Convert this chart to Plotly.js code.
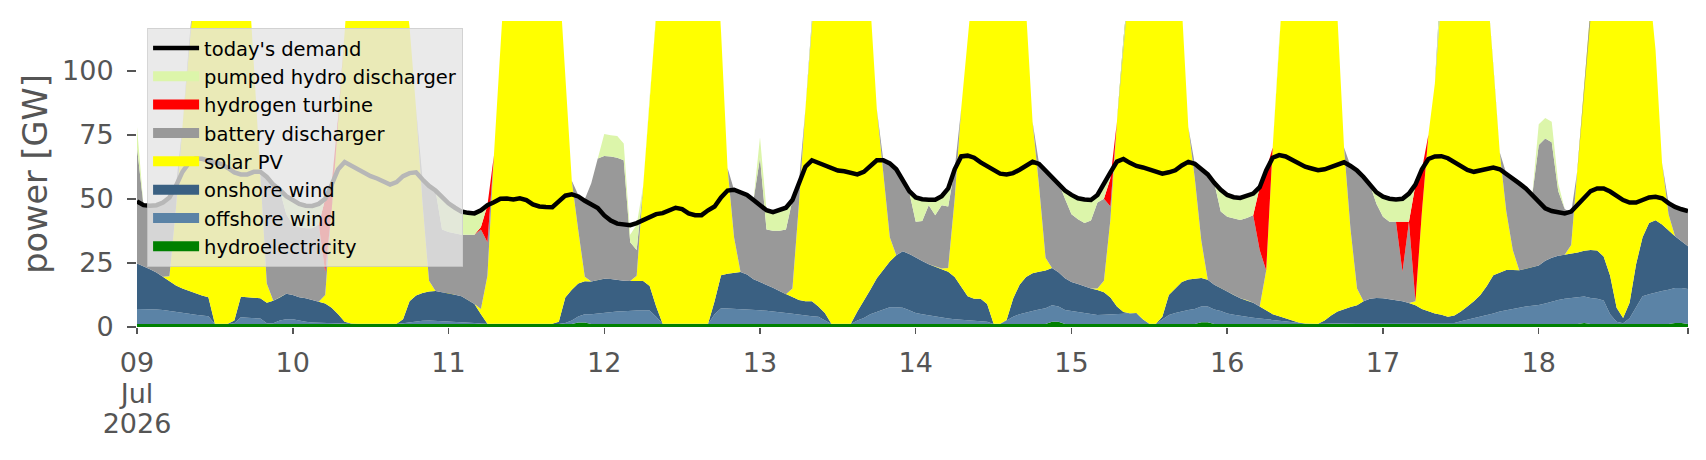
<!DOCTYPE html>
<html>
<head>
<meta charset="utf-8">
<script src="https://cdn.plot.ly/plotly-3.0.1.min.js"></script>
<style>
html,body{margin:0;padding:0;background:#ffffff;}
#chart{width:1706px;height:460px;}
</style>
</head>
<body>
<div id="chart"></div>
<script>
// hourly series, 2026-07-09 00:00 .. 2026-07-18 23:00 (GW), one line per day
const hydroelectricity = [
1.2,1.2,1.2,1.2,1.2,1.2,1.2,1.2,1.2,1.2,1.2,1.2,1.2,1.2,1.2,1.2,1.2,1.2,1.2,1.2,1.2,1.2,1.2,1.2,
1.2,1.2,1.2,1.2,1.2,1.2,1.2,1.2,1.2,1.2,1.2,1.2,1.2,1.2,1.2,1.2,1.2,1.2,1.2,1.2,1.2,1.2,1.2,1.2,
1.2,1.2,1.2,1.2,1.2,1.2,1.2,1.2,1.2,1.2,1.2,1.2,1.2,1.2,1.2,1.2,1.2,1.2,1.2,1.2,1.8,1.8,1.2,1.2,
1.2,1.2,1.2,1.2,1.2,1.2,1.2,1.2,1.2,1.2,1.2,1.2,1.2,1.2,1.2,1.2,1.2,1.2,1.2,1.2,1.2,1.2,1.2,1.2,
1.2,1.2,1.2,1.2,1.2,1.2,1.2,1.2,1.2,1.2,1.2,1.2,1.2,1.2,1.2,1.2,1.2,1.2,1.2,1.2,1.2,1.2,1.2,1.2,
1.2,1.2,1.2,1.2,1.2,1.2,1.2,1.2,1.2,1.2,1.2,1.2,1.2,1.2,1.2,1.2,1.2,1.2,1.2,1.2,1.2,2.0,2.0,1.2,
1.2,1.2,1.2,1.2,1.2,1.2,1.2,1.2,1.2,1.2,1.2,1.2,1.2,1.2,1.2,1.2,1.2,1.2,1.2,1.2,1.9,1.9,1.2,1.2,
1.2,1.2,1.2,1.2,1.2,1.2,1.2,1.2,1.2,1.2,1.2,1.2,1.2,1.2,1.2,1.2,1.2,1.2,1.2,1.2,1.2,1.2,1.2,1.2,
1.2,1.2,1.2,1.2,1.2,1.2,1.2,1.2,1.2,1.2,1.2,1.2,1.2,1.2,1.2,1.2,1.2,1.2,1.2,1.2,1.2,1.2,1.2,1.2,
1.2,1.2,1.2,1.2,1.2,1.2,1.2,1.6,1.2,1.2,1.2,1.2,1.2,1.2,1.2,1.2,1.2,1.2,1.2,1.2,1.2,1.6,1.6,1.2
];
const offshoreWind = [
5.8,5.8,5.7,5.6,5.4,5.1,4.8,4.4,4.0,3.6,3.4,3.0,0,0,0,0.3,2.6,2.4,2.3,2.1,0.3,0.3,1.3,1.8,
1.8,1.3,0.8,0.6,0.5,0.4,0.3,0.1,0,0,0,0,0,0,0,0,0,0.3,0.6,1.0,1.2,1.3,1.2,1.0,
0.9,0.7,0.6,0.5,0.4,0.2,0,0,0,0,0,0,0,0,0,0,0,0,0.4,1.3,2.3,3.2,3.8,4.1,
4.3,4.6,4.8,4.9,5.1,5.2,5.2,5.2,2.8,0,0,0,0,0,0,0,0,3.8,6.1,6.0,5.9,5.8,5.7,5.5,
5.3,5.1,4.9,4.6,4.3,4.0,3.6,3.3,3.0,2.8,1.3,0,0,0,0,1.3,2.3,3.8,4.8,5.8,6.5,6.5,6.3,5.3,
4.3,3.8,3.3,2.8,2.4,2.1,1.8,1.6,1.5,1.3,1.1,0.8,0,0,1.3,2.8,3.8,4.5,5.0,5.6,6.1,6.5,6.0,5.4,
5.0,4.7,4.3,3.8,3.5,3.6,3.8,3.9,4.0,4.1,4.0,1.8,0,0,1.8,3.5,4.3,5.0,5.4,5.8,6.1,6.1,5.6,5.0,
4.1,3.6,3.1,2.8,2.4,2.1,1.8,1.5,1.2,0.9,0.6,0.4,0.2,0.1,0,0.1,0.2,0.3,0.3,0.4,0.4,0.4,0.4,0.4,
0.4,0.4,0.4,0.4,0.4,0.4,0.4,0.4,0.4,0.4,0.4,0.4,1.0,1.6,2.1,2.6,3.3,4.1,4.8,5.4,5.8,6.3,6.8,7.1,
7.4,8.0,8.8,9.3,9.8,10.1,10.3,10.3,10.1,9.8,9.1,3.8,0.8,0.3,2.2,6.8,10.8,11.6,12.3,12.8,13.3,13.6,13.6,13.6
];
const onshoreWind = [
17.8,16.8,15.6,14.4,13.0,11.5,10.2,9.4,8.8,8.4,7.7,7.4,0.1,0.1,0.1,1.0,8.0,8.0,7.9,7.9,8.0,8.7,9.0,10.0,
9.5,9.1,9.2,8.7,8.1,7.6,6.0,3.7,0.8,0.2,0.1,0.1,0.1,0.1,0.1,0.1,0.1,1.5,8.2,10.1,10.9,11.3,11.6,11.3,
11.2,10.7,10.2,8.8,7.4,3.6,0.1,0.1,0.1,0.1,0.1,0.1,0.1,0.1,0.1,0.1,0.1,0.8,9.9,12.0,12.9,12.8,12.7,13.0,
13.3,12.9,12.3,11.9,11.6,11.5,11.5,9.6,4.0,0.1,0.1,0.1,0.1,0.1,0.1,0.1,0.1,5.0,12.9,13.6,14.1,14.4,13.6,11.9,
11.0,10.2,9.2,8.2,7.3,6.3,5.7,5.5,5.8,4.0,3.0,0.1,0.1,0.1,0.1,3.5,6.5,9.5,13.0,15.5,17.8,20.3,22.0,22.0,
21.5,20.7,20.0,19.5,19.2,18.2,16.5,13.2,9.3,8.5,8.7,7.0,0.1,0.1,0.2,7.0,11.5,13.8,14.8,14.7,14.7,14.5,13.3,12.4,
11.3,10.9,10.3,10.0,9.7,8.7,6.5,2.9,0.6,0.1,0.3,0,0.1,0.1,1.0,7.8,9.5,11.3,11.9,11.8,11.1,10.4,9.7,9.0,
8.7,7.7,6.9,6.5,5.9,4.7,3.5,2.3,1.8,1.2,0.7,0.2,0,0,0.1,1.2,3.1,4.5,5.5,6.2,6.9,8.4,9.4,9.7,
9.6,9.2,8.9,8.4,7.8,6.9,5.4,4.4,3.7,3.2,2.4,2.9,3.8,5.2,6.7,8.7,11.5,14.9,15.2,15.6,15.2,14.6,14.8,15.2,
15.4,16.6,17.0,17.3,17.2,17.3,17.5,17.8,18.7,18.8,17.2,15.0,5.5,2.0,6.1,16.5,23.0,27.7,28.1,26.0,23.0,20.2,18.2,16.7
];
const solarPV = [
0,0,0,0,0,2,30,63,96,129,153,168,184,184,177,163,143,133,91,48,7.5,0,0,0,
0,0,0,0,0,3.3,38,77,113,149,164,174,179,179,174,164,149,135,107,73,35,4.2,0,0,
0,0,0,0,0,2,18.7,65.7,113.7,149,164,174,179,177,171,161,151,137,86.5,42.5,20.6,1.8,0,0,
0,0,0,0,0,2.1,37.1,74,114,149,164,171,175,175,172,168,165,150,94.8,41.2,13.8,0,0,0,
0,0,0,0,0,3.5,37.5,75,110,142,159.5,169.7,174.7,175.7,171.7,160,145,111.5,66,37.5,9.5,0,0,0,
0,0,0,0,0,1.5,30.5,69,100,134,155,166,177.7,179.7,177.3,166,150.5,105.5,59,33.5,5,0,0,0,
0,0,0,0,0.6,4.5,30.5,72,106.2,139.6,159.5,172,177.7,179.7,176,164.5,150,107.5,59.5,39.2,14.6,0,0,0,
0,0,0,0,0,0,15.5,65,107.8,146.7,165.5,175.2,179.7,179.7,177.7,169.5,155.5,114,63,30.2,6.5,0,0,0,
0,0,0,0,0,1.5,38,69,89.7,135.2,160,171.5,176,175,168,149.5,119,81.8,46.8,22.8,7.8,0,0,0,
0,0,0,0,0,3.4,33,65.7,95,120.2,140.5,160,174.5,178.5,175.5,155.5,125,94.5,66.4,24,6.5,0,0,0
];
const batteryDischarger = [
45.2,23.7,24.8,26.3,28.9,30.7,9,0,0,0,0,0,0,0,0,0,0,0,0,1.3,41.5,45.3,42,31,
27.5,27.4,27.3,28,30.2,9,0,0,0,0,0,0,0,0,0,0,0,0,0,0,9.5,37,39.2,24.5,
23.7,23.9,24,25.5,27,31,13,0,0,0,0,0,0,0,0,0,0,0,0,0,13.9,30.2,38.3,47.4,
47.9,47.8,47.7,47,15.1,10,0,0,0,0,0,0,0,0,0,0,0,0,0,0,18.5,31.3,31,30.9,
48.5,21.5,22.2,23.5,25.2,34.5,8.5,0,0,0,0,0,0,0,0,0,0,0,0,5,28.8,33.5,27.5,24,
14,15.6,23,20.1,24.7,24,11.5,0,0,0,0,0,0,0,0,0,0,0,0,8.6,34,36.3,35,31,
26.5,25.2,24.7,26.5,33.5,32,5,0,0,0,0,0,0,0,0,0,0,0,0,5.6,28.5,41.8,39.7,29.8,
29,29.7,30.5,32,34.1,22,0,0,0,0,0,0,0,0,0,0,0,0,0,24.8,46,48.5,44.5,36.7,
31.8,30.2,30.5,11.5,31.6,0,0,0,0,0,0,0,0,0,0,0,0,0,0,14.8,28,33.9,31.2,28,
47,47.7,45,25.2,17.8,12.5,0,0,0,0,0,0,0,0,0,0,0,0,0,0,4.3,11.8,12.9,13.7
];
const hydrogenTurbine = [
0,0,0,0,0,0,0,0,0,0,0,0,0,0,0,0,0,0,0,0,0,0,0,0,
0,0,0,0,0,28.5,10.5,0,0,0,0,0,0,0,0,0,0,0,0,0,0,0,0,0,
0,0,0,0,0,1,14.5,0,0,0,0,0,0,0,0,0,0,0,0,0,0,0,0,0,
0,0,0,0,0,0,0,0,0,0,0,0,0,0,0,0,0,0,0,0,0,0,0,0,
0,0,0,0,0,0,0,0,0,0,0,0,0,0,0,0,0,0,0,0,0,0,0,0,
0,0,0,0,0,0,0,0,0,0,0,0,0,0,0,0,0,0,0,0,0,0,0,0,
0,0,0,0,0,0,11,0,0,0,0,0,0,0,0,0,0,0,0,0,0,0,0,0,
0,0,0,0,0,24.5,39,0,0,0,0,0,0,0,0,0,0,0,0,0,0,0,0,0,
0,0,0,19.5,0,45.5,16.5,0,0,0,0,0,0,0,0,0,0,0,0,0,0,0,0,0,
0,0,0,0,0,0,0,0,0,0,0,0,0,0,0,0,0,0,0,0,0,0,0,0
];
const pumpedHydroDischarger = [
8,0,0,0,0,0,0,0,0,0,0,0,0,0,0,0,0,0,0,0,0,0,0,7,
9.5,9,8.8,8.7,8,0,0,0,0,0,0,0,0,0,0,0,0,0,0,0,0,0,0,12.5,
11.2,10,9,8.5,8.3,6.5,0,0,0,0,0,0,0,0,0,0,0,0,0,0,0,0,0,0,
8.5,8.3,8.5,6.5,3,10,0,0,0,0,0,0,0,0,0,0,0,0,0,0,0,0,0,0,
8,7.5,7.3,8,8.5,0,0,0,0,0,0,0,0,0,0,0,0,0,0,0,0,0,0,0.5,
9.5,8.5,2.1,6,3.5,7,0,0,0,0,0,0,0,0,0,0,0,0,0,0,0,0,0,3.2,
7.5,8.2,9.2,8,3,5.5,0,0,0,0,0,0,0,0,0,0,0,0,0,0,0,0,0,8.5,
8.5,8.4,8.6,8.5,8.4,0,0,0,0,0,0,0,0,0,0,0,0,0,0,0,0,0,0,4.5,
7.8,9,8.7,9,11,0,0,0,0,0,0,0,0,0,0,0,0,0,0,0,0,0,0,0,
8,8,8,3,0,0,0,0,0,0,0,0,0,0,0,0,0,0,0,0,0,0,0,0
];
const todaysDemand = [
49,47.5,47.3,47.5,48.5,50.5,55,60.5,64,65.7,65.6,65,64.5,63.5,62,60.3,59.5,59.5,60.5,60.5,58.5,55.5,53.5,51,
49.5,48,47.3,47.2,48,50,55.5,61.5,64.3,62.8,61.5,60,58.8,57.9,56.5,55.5,56.5,58.8,60,60.3,57.5,55,53.2,50.5,
48.2,46.5,45,44.5,44.3,45.5,47.5,48.6,50,50.1,49.7,50.2,49.5,47.8,47,46.8,46.7,49,51.2,51.7,50.9,49.2,47.8,46.4,
43.5,41.5,40.3,39.9,39.7,40.5,41.7,43.2,44,44.4,45.5,46.5,46,44.3,43.6,43.6,45.5,47,50.5,53.2,53.5,52.7,51.5,49.5,
47.5,45.5,44.8,45.5,46.5,49.5,56.5,62.5,65,64,62.6,61.6,61,60.7,60.3,59.5,60.5,62.5,65,65,63.8,61.5,57,53,
50.5,49.8,49.6,49.6,51,54,61.5,66.5,66.8,66,64.2,62.8,61.2,59.8,59.5,60,61.3,63,64.4,63.6,61,58.5,55.5,53.2,
51.5,50.2,49.7,49.5,51.5,55.5,60.3,64.5,65.5,64,62.8,62.2,61.4,60.5,59.8,60.3,61.1,63,64.4,63.6,61.5,59.5,56.2,53.5,
51.5,50.6,50.3,51,52,54.5,61,66,67,66.5,65.2,63.5,62.5,61.8,61.1,61.5,62.3,63.5,64.2,62.8,61,58.5,55.5,52.5,
50.8,50,49.7,50,52,55.5,61.5,65.5,66.5,66.6,65.8,64.3,62.5,61.2,60.5,61,61.8,62.2,61.5,59.8,58,56,54,51.5,
48.5,46.3,45.2,44.6,44.3,45,47.5,50.5,53,54,54,52.8,51,49.5,48.5,48.5,49.5,50.5,50.8,50.2,48.3,46.8,45.9,45.2
];

const tickDates = ['2026-07-09','2026-07-10','2026-07-11','2026-07-12','2026-07-13',
                   '2026-07-14','2026-07-15','2026-07-16','2026-07-17','2026-07-18','2026-07-18 23:00'];
const tickLabels = [['09','Jul','2026'],['10'],['11'],['12'],['13'],['14'],['15'],['16'],['17'],['18'],['']];
const yTicks = [0, 25, 50, 75, 100];

// hourly time stamps
const times = [];
for (let i = 0; i < todaysDemand.length; i++) {
  const d = new Date(Date.UTC(2026, 6, 9, i));
  times.push(d.toISOString().slice(0, 16).replace('T', ' '));
}
// tick text: glyphs at 27px, line pitch from a smaller base font (tighter line spacing)
const tickText = tickLabels.map(function (lines) {
  return lines.map(function (t) { return t ? '<span style="font-size:27px">' + t + '</span>' : ''; }).join('<br>');
});

const FONT = 'DejaVu Sans, Liberation Sans, sans-serif';
const series = [
  ['hydroelectricity', hydroelectricity, '#008000', 8],
  ['offshore wind', offshoreWind, '#5b83a6', 7],
  ['onshore wind', onshoreWind, '#3a6082', 6],
  ['solar PV', solarPV, '#ffff00', 5],
  ['battery discharger', batteryDischarger, '#999999', 4],
  ['hydrogen turbine', hydrogenTurbine, '#ff0000', 3],
  ['pumped hydro discharger', pumpedHydroDischarger, '#dcf5aa', 2]
];
const traces = [];
series.forEach(function (s) {
  traces.push({
    type: 'scatter', mode: 'lines', x: times, y: s[1], name: s[0],
    stackgroup: 'gen', line: {width: 0, color: s[2]}, fillcolor: s[2],
    showlegend: false, legendgroup: s[0], hoverinfo: 'skip'
  });
});
traces.push({type: 'scatter', mode: 'lines', x: times, y: todaysDemand, name: "today's demand",
  line: {color: '#000000', width: 4.5}, legendrank: 1, hoverinfo: 'skip'});
// legend swatches (patch-like) for the stacked areas
series.forEach(function (s) {
  traces.push({
    type: 'scatter', mode: 'lines', x: [times[0]], y: [null], name: s[0],
    line: {width: 15, color: s[2]}, legendgroup: s[0], legendrank: s[3],
    showlegend: true, hoverinfo: 'skip'
  });
});

const layout = {
  width: 1706, height: 460,
  margin: {l: 137, r: 18, t: 21, b: 133, pad: 0},
  paper_bgcolor: '#ffffff', plot_bgcolor: '#ffffff',
  showlegend: true,
  legend: {
    x: 0.0065, y: 0.978, xanchor: 'left', yanchor: 'top',
    bgcolor: 'rgba(229,229,229,0.8)', bordercolor: 'rgba(204,204,204,0.8)', borderwidth: 1,
    font: {family: FONT, size: 19.5, color: '#000000'},
    traceorder: 'normal', itemwidth: 46
  },
  xaxis: {
    type: 'date', range: [times[0], times[times.length - 1]],
    tickmode: 'array', tickvals: tickDates, ticktext: tickText,
    ticks: 'outside', ticklen: 6, tickwidth: 1.5, tickcolor: '#555555',
    showgrid: false, zeroline: false, showline: false,
    tickfont: {family: FONT, size: 23.5, color: '#555555'},
    ticklabelstandoff: 10
  },
  yaxis: {
    range: [0, 119.3], tickmode: 'array', tickvals: yTicks,
    ticks: 'outside', ticklen: 9, tickwidth: 2, tickcolor: '#555555',
    showgrid: false, zeroline: false, showline: false,
    tickfont: {family: FONT, size: 27, color: '#555555'},
    ticklabelstandoff: 8,
    title: {text: 'power [GW]', font: {family: FONT, size: 33.5, color: '#555555'}, standoff: 4}
  }
};

Plotly.newPlot('chart', traces, layout, {displayModeBar: false, staticPlot: true});
</script>
</body>
</html>
